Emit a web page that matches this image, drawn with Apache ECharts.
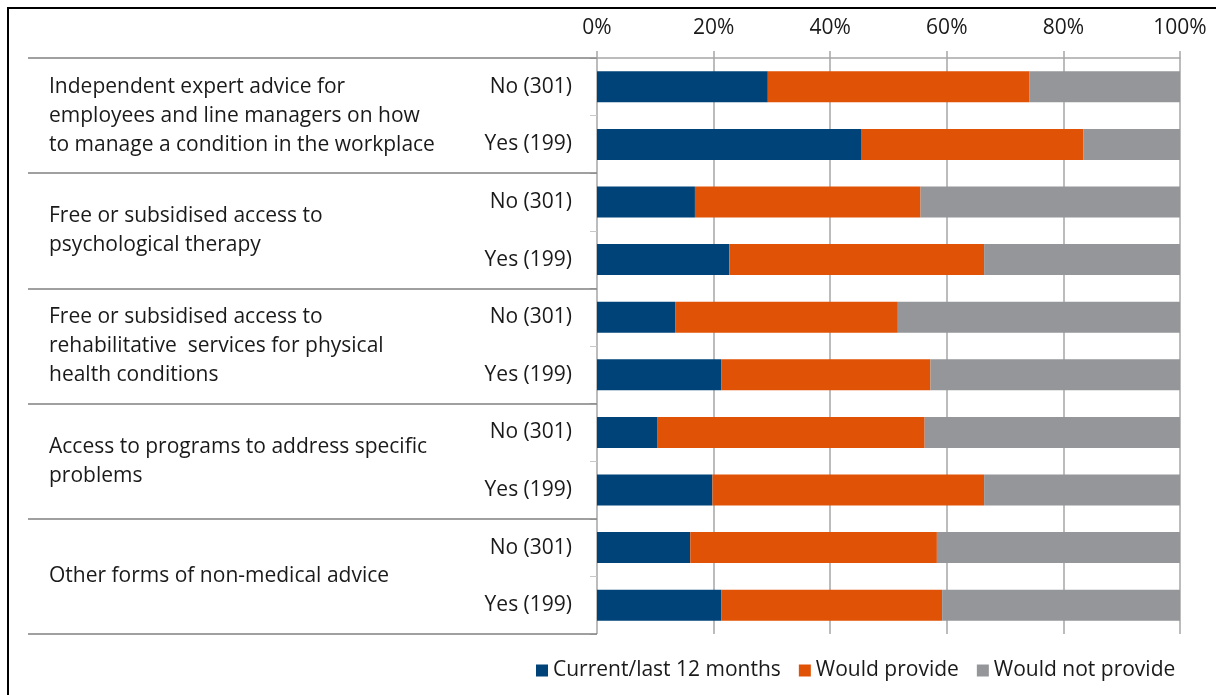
<!DOCTYPE html>
<html>
<head>
<meta charset="utf-8">
<script src="https://cdn.jsdelivr.net/npm/echarts@6/dist/echarts.min.js"></script>
<style>
  html, body { margin: 0; padding: 0; background: #fff; }
  #wrap { position: relative; width: 1216px; height: 695px; overflow: hidden; }
  #frame { position: absolute; left: 7px; top: 7px; width: 1300px; height: 800px;
           border-left: 2px solid #000; border-top: 2px solid #000; pointer-events: none; }
  #chart { position: absolute; left: 0; top: 0; width: 1216px; height: 695px; }
</style>
</head>
<body>
<div id="wrap">
  <div id="chart"></div>
  <div id="frame"></div>
</div>
<script>
// Support types (each shown for respondents answering No / Yes)
const groups = [
  'Independent expert advice for\nemployees and line managers on how\nto manage a condition in the workplace',
  'Free or subsidised access to\npsychological therapy',
  'Free or subsidised access to\nrehabilitative  services for physical\nhealth conditions',
  'Access to programs to address specific\nproblems',
  'Other forms of non-medical advice'
];
const rows = [
  'No (301)', 'Yes (199)',
  'No (301)', 'Yes (199)',
  'No (301)', 'Yes (199)',
  'No (301)', 'Yes (199)',
  'No (301)', 'Yes (199)'
];
const seriesNames = ['Current/last 12 months', 'Would provide', 'Would not provide'];

// Percentages per row
const current      = [29.3, 45.4, 16.8, 22.7, 13.4, 21.3, 10.3, 19.8, 16.0, 21.3];
const wouldProvide = [44.9, 38.0, 38.7, 43.7, 38.2, 35.9, 45.9, 46.6, 42.3, 37.9];
const wouldNot     = [25.8, 16.6, 44.5, 33.6, 48.4, 42.8, 43.8, 33.6, 41.7, 40.8];

const xTicks = { min: 0, max: 100, interval: 20 };
const colors = ['#004379', '#e05206', '#959699'];

const FONT = 'Open Sans';
const FS = 21;
const chart = echarts.init(document.getElementById('chart'), null, { renderer: 'canvas' });

chart.setOption({
  animation: false,
  textStyle: { fontFamily: FONT },
  grid: { left: 597, right: 36, top: 58, bottom: 61, containLabel: false },
  legend: {
    data: seriesNames,
    left: 531,
    top: 655,
    itemWidth: 12,
    itemHeight: 12,
    itemGap: 18,
    icon: 'rect',
    textStyle: { fontFamily: FONT, fontSize: FS, color: '#1a1a1a' }
  },
  xAxis: {
    type: 'value',
    position: 'top',
    min: xTicks.min, max: xTicks.max, interval: xTicks.interval,
    axisLine: { show: true, lineStyle: { color: '#a6a6a6', width: 1.5 } },
    axisTick: { show: true, length: 7, lineStyle: { color: '#a6a6a6', width: 1.5 } },
    splitLine: { show: true, lineStyle: { color: '#a6a6a6', width: 1.5 } },
    axisLabel: { formatter: '{value}%', fontSize: FS, color: '#1a1a1a', margin: 19, fontFamily: FONT }
  },
  yAxis: [
    {
      type: 'category',
      inverse: true,
      data: rows,
      axisLine: { show: false },
      axisTick: { show: true, length: 7, lineStyle: { color: '#c8c8c8', width: 1 } },
      axisLabel: { fontSize: FS, color: '#1a1a1a', margin: 25, fontFamily: FONT }
    },
    {
      type: 'category',
      inverse: true,
      position: 'left',
      data: groups,
      axisLine: { show: false },
      axisTick: { show: true, length: 569, lineStyle: { color: '#808080', width: 1.6 } },
      axisLabel: {
        fontSize: FS, color: '#1a1a1a', align: 'left', margin: 548,
        lineHeight: 29, fontFamily: FONT
      },
      splitLine: { show: false }
    }
  ],
  series: [
    { name: seriesNames[0], type: 'bar', stack: 'total', yAxisIndex: 0, data: current,
      barWidth: 31, itemStyle: { color: colors[0] } },
    { name: seriesNames[1], type: 'bar', stack: 'total', yAxisIndex: 0, data: wouldProvide,
      barWidth: 31, itemStyle: { color: colors[1] } },
    { name: seriesNames[2], type: 'bar', stack: 'total', yAxisIndex: 0, data: wouldNot,
      barWidth: 31, itemStyle: { color: colors[2] } }
  ]
});
</script>
</body>
</html>
